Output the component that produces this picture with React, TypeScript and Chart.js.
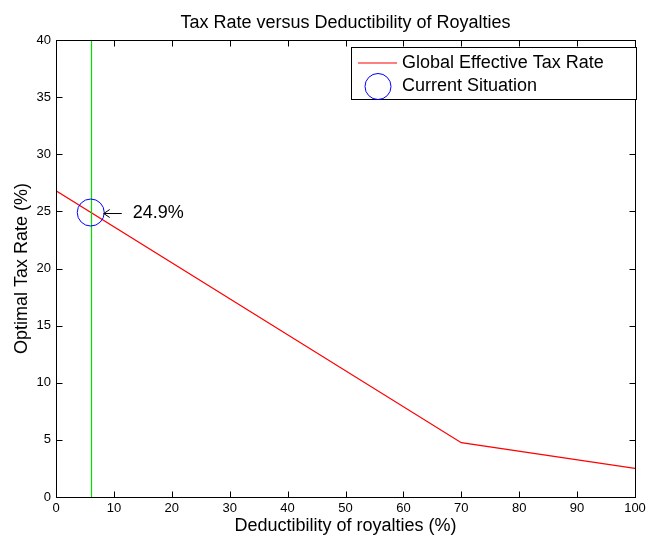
import React, { useEffect, useRef } from "react";
import { Chart, registerables } from "chart.js";

Chart.register(...registerables);

const TITLE = "Tax Rate versus Deductibility of Royalties";
const X_LABEL = "Deductibility of royalties (%)";
const Y_LABEL = "Optimal Tax Rate (%)";
const SERIES_NAME = "Global Effective Tax Rate";
const POINT_NAME = "Current Situation";

const deductibility = [0, 70, 100];
const taxRate = [26.8, 4.75, 2.5];

const currentX = 6;
const currentY = 24.9;
const currentLabel = "24.9%";

const xTicks = [0, 10, 20, 30, 40, 50, 60, 70, 80, 90, 100];
const yTicks = [0, 5, 10, 15, 20, 25, 30, 35, 40];

const FONT = "'Liberation Sans', Arial, Helvetica, sans-serif";

const decorPlugin = {
  id: "decor",
  afterDatasetsDraw(chart: any) {
    const { ctx, chartArea: a, scales } = chart;
    const xs = scales.x;
    const ys = scales.y;
    ctx.save();

    // current situation vertical line
    ctx.strokeStyle = "#00e000";
    ctx.lineWidth = 1.2;
    const gx = Math.round(xs.getPixelForValue(currentX)) + 0.5;
    ctx.beginPath();
    ctx.moveTo(gx, a.top);
    ctx.lineTo(gx, a.bottom);
    ctx.stroke();

    // circle
    const cx = xs.getPixelForValue(currentX);
    const cy = ys.getPixelForValue(currentY);
    ctx.strokeStyle = "#0000ff";
    ctx.lineWidth = 1;
    ctx.beginPath();
    ctx.arc(cx, cy, 13.5, 0, Math.PI * 2);
    ctx.stroke();

    // arrow annotation
    const ax0 = cx + 31;
    const ax1 = cx + 13;
    const ay = cy + 1;
    ctx.strokeStyle = "#000";
    ctx.lineWidth = 1;
    ctx.beginPath();
    ctx.moveTo(ax0, ay);
    ctx.lineTo(ax1, ay);
    ctx.moveTo(ax1 + 6, ay - 4);
    ctx.lineTo(ax1, ay);
    ctx.lineTo(ax1 + 6, ay + 4);
    ctx.stroke();
    ctx.fillStyle = "#000";
    ctx.font = `18px ${FONT}`;
    ctx.textAlign = "left";
    ctx.textBaseline = "middle";
    ctx.fillText(currentLabel, cx + 42, ay);

    // frame
    ctx.strokeStyle = "#000";
    ctx.lineWidth = 1;
    const L = Math.round(a.left) + 0.5;
    const R = Math.round(a.right) + 0.5;
    const T = Math.round(a.top) + 0.5;
    const B = Math.round(a.bottom) + 0.5;
    ctx.strokeRect(L, T, R - L, B - T);

    // inward ticks
    const tl = 6;
    ctx.beginPath();
    xTicks.forEach((v) => {
      const px = Math.round(xs.getPixelForValue(v)) + 0.5;
      ctx.moveTo(px, B);
      ctx.lineTo(px, B - tl);
      ctx.moveTo(px, T);
      ctx.lineTo(px, T + tl);
    });
    yTicks.forEach((v) => {
      const py = Math.round(ys.getPixelForValue(v)) + 0.5;
      ctx.moveTo(L, py);
      ctx.lineTo(L + tl, py);
      ctx.moveTo(R, py);
      ctx.lineTo(R - tl, py);
    });
    ctx.stroke();

    // legend
    const lx = 351.5, ly = 47.5, lw = 285, lh = 52;
    ctx.fillStyle = "#fff";
    ctx.fillRect(lx, ly, lw, lh);
    ctx.strokeStyle = "#000";
    ctx.strokeRect(lx, ly, lw, lh);
    ctx.strokeStyle = "#ff0000";
    ctx.beginPath();
    ctx.moveTo(358, 63);
    ctx.lineTo(397, 63);
    ctx.stroke();
    ctx.strokeStyle = "#0000ff";
    ctx.beginPath();
    ctx.arc(378, 86.5, 13, 0, Math.PI * 2);
    ctx.stroke();
    ctx.fillStyle = "#000";
    ctx.font = `18px ${FONT}`;
    ctx.textAlign = "left";
    ctx.textBaseline = "middle";
    ctx.fillText(SERIES_NAME, 402, 63);
    ctx.fillText(POINT_NAME, 402, 86);

    // titles
    ctx.textAlign = "center";
    ctx.textBaseline = "alphabetic";
    ctx.fillText(TITLE, (a.left + a.right) / 2, 28);
    ctx.fillText(X_LABEL, (a.left + a.right) / 2, 531);
    ctx.save();
    ctx.translate(27, (a.top + a.bottom) / 2);
    ctx.rotate(-Math.PI / 2);
    ctx.fillText(Y_LABEL, 0, 0);
    ctx.restore();

    ctx.restore();
  },
};

export default function App() {
  const ref = useRef<HTMLCanvasElement>(null);
  useEffect(() => {
    document.body.style.margin = "0";
    const canvas = ref.current!;
    const chart = new Chart(canvas, {
      type: "line",
      data: {
        datasets: [
          {
            label: SERIES_NAME,
            data: deductibility.map((x, i) => ({ x, y: taxRate[i] })),
            borderColor: "#ff0000",
            borderWidth: 1.3,
            pointRadius: 0,
            fill: false,
            tension: 0,
          },
        ],
      },
      options: {
        responsive: false,
        animation: false,
        devicePixelRatio: 1,
        layout: { padding: { left: 0, top: 40, right: 11, bottom: 0 } },
        plugins: {
          legend: { display: false },
          title: { display: false },
          tooltip: { enabled: false },
        },
        scales: {
          x: {
            type: "linear",
            min: 0,
            max: 100,
            afterBuildTicks: (s: any) => {
              s.ticks = xTicks.map((v) => ({ value: v }));
            },
            afterFit: (s: any) => {
              s.height = 41;
              s.paddingLeft = 0;
              s.paddingRight = 0;
            },
            grid: { display: false, drawTicks: false },
            border: { display: false },
            ticks: {
              color: "#000",
              font: { family: FONT, size: 13 },
              padding: 4,
              maxRotation: 0,
              autoSkip: false,
            },
          },
          y: {
            type: "linear",
            min: 0,
            max: 40,
            afterBuildTicks: (s: any) => {
              s.ticks = yTicks.map((v) => ({ value: v }));
            },
            afterFit: (s: any) => {
              s.width = 56;
              s.paddingTop = 0;
              s.paddingBottom = 0;
            },
            grid: { display: false, drawTicks: false },
            border: { display: false },
            ticks: {
              color: "#000",
              font: { family: FONT, size: 13 },
              padding: 5,
              autoSkip: false,
            },
          },
        },
      },
      plugins: [decorPlugin],
    });
    return () => chart.destroy();
  }, []);
  return (
    <div style={{ width: 646, height: 538, background: "#fff" }}>
      <canvas ref={ref} width={646} height={538} style={{ display: "block" }} />
    </div>
  );
}
